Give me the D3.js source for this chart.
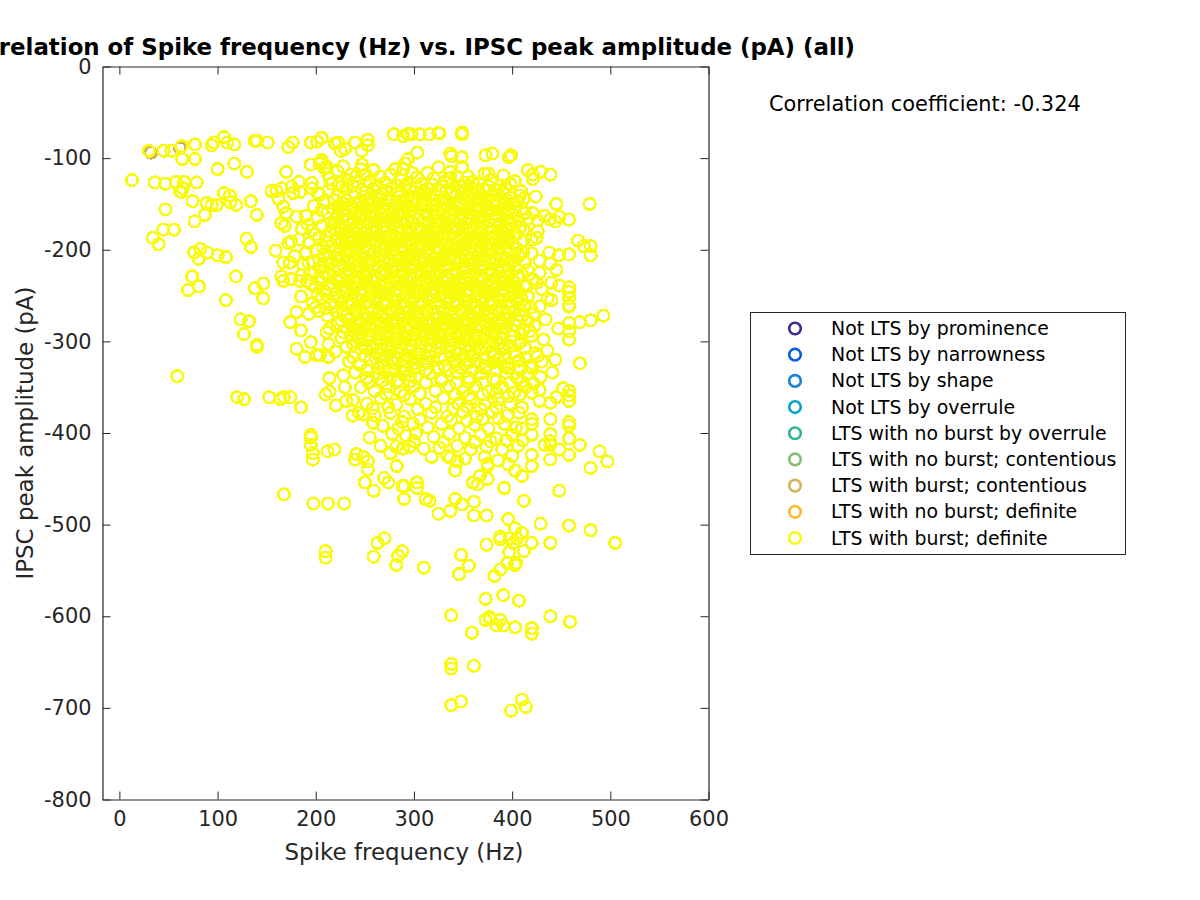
<!DOCTYPE html>
<html><head><meta charset="utf-8">
<script src="https://cdn.jsdelivr.net/npm/d3@7/dist/d3.min.js"></script>
<style>html,body{margin:0;padding:0;background:#fff}svg{display:block}text{font-family:"DejaVu Sans",sans-serif}</style>
</head><body><svg id="c" width="1200" height="900"></svg>
<script>
const titleText="Correlation of Spike frequency (Hz) vs. IPSC peak amplitude (pA) (all)";
const xLabel="Spike frequency (Hz)";
const yLabel="IPSC peak amplitude (pA)";
const corrText="Correlation coefficient: -0.324";
const xTicks=[0,100,200,300,400,500,600];
const yTicks=[0,-100,-200,-300,-400,-500,-600,-700,-800];
const legendLabels=["Not LTS by prominence","Not LTS by narrowness","Not LTS by shape","Not LTS by overrule","LTS with no burst by overrule","LTS with no burst; contentious","LTS with burst; contentious","LTS with no burst; definite","LTS with burst; definite"];
const legendColors=["#3e2a94","#0b5ce0","#1a82de","#06a5c8","#2db59b","#85c074","#d2b55a","#fbbc2b","#f9fb0e"];
const contentiousPoints=[[32,-94],[61.7,-89]];
const outerPoints=[
[30,-92],[45,-92],[53,-92],[63.4,-87],[77,-85],[64,-101],[77,-101],[94,-86],[96,-83],[106.5,-77],[110,-83],[117,-85],[138,-81],[140,-81],[151,-83],[172,-88],[176.5,-83],[195,-83],[201.5,-82],[206,-78],[219.5,-84],[223,-83],[225.5,-92],[229.7,-90],[240,-83],[253,-80],[253,-86],[246.7,-92],[279.6,-74],[289,-76],[294,-74],[297.6,-74],[306,-74],[316,-74],[325,-72.5],[326,-73],[349,-72],[349,-74],[303.4,-94],[294,-101],[291,-106],[289,-112],[337,-95],[338.4,-98],[348.6,-99],[349,-110],[373,-97],[380,-95],[396.6,-99],[399,-97],[325,-110],[337,-115],[376,-117],[391,-119],[403,-125],[416,-113],[421,-118],[421,-123],[429,-115],[439,-118],[360,-126],[352,-127],[424,-142],[408,-141],[412,-144],[445,-150],[479,-150],[388,-156],[403,-158],[413,-160],[421,-160],[433,-163],[439,-167],[448,-164],[444,-169],[458,-167],[398,-168],[408,-176],[412,-178],[426,-180],[425,-187],[420,-189],[467,-190],[473,-196],[480,-196],[480,-206],[438,-203],[448,-206],[458,-205],[439,-215],[445,-222],[420,-204],[428,-225],[421,-232],[440,-236],[448,-239],[458,-241],[458,-246],[458,-253],[458,-261],[415,-240],[436,-253],[440,-255],[430,-243],[416,-251],
[493,-272],[480,-277],[469,-279],[458,-262],[458,-280],[458,-289],[458,-298],[447,-286],[469,-324],[452,-351],[458,-354],[458,-359],[458,-365],[445,-361],[439,-367],[420,-356],[410,-372],[439,-385],[458,-388],[458,-392],[439,-401],[458,-406],[439,-409],[439,-413],[433,-413],[448,-418],[469,-413],[489,-420],[458,-424],[439,-429],[497,-431],[480,-438],[420,-385],[420,-390],[420,-402],[410,-395],[420,-424],[420,-436],[410,-447],[403,-441],[396,-434],[375,-434],[375,-436],[375,-450],[367,-447],[365,-456],[360,-454],[342,-441],[344,-431],[337,-427],[303,-454],[303,-460],[290,-458],[290,-472],[312,-472],[316,-474],[342,-472],[349,-478],[361,-475],[337,-485],[325,-488],[361,-490],[374,-490],[392,-460],[412,-474],[448,-463],[396,-494],[429,-499],[458,-501],[480,-506],[403,-504],[410,-509],[388,-513],[388,-516],[398,-515],[405,-515],[420,-520],[439,-520],[505,-520],[374,-522],
[197.5,-477],[212.4,-477],[229,-477],[397,-530],[412,-529],[401,-520],[395,-542],[404,-542],[403,-544],[388,-549],[382,-556],[270,-515],[263,-520],[288,-529],[284,-534],[259,-535],[282,-544],[310,-547],[210,-529],[210,-536],[348,-533],[356,-545],[346,-554],[373,-581],[391,-577],[407,-583],[338,-599],[439,-600],[459,-606],[373,-604],[377,-601],[378,-603],[388,-604],[384,-610],[391,-610],[403,-612],[420,-613],[420,-619],[359,-618],[338,-652],[338,-657],[361,-654],[338,-697],[348,-693],[410,-691],[414,-699],[399,-703],
[59,-338],[120,-361],[127,-363],[152.7,-361],[164,-363],[167.5,-361],[174,-361],[185,-372],[123.5,-276],[132,-278],[127,-292],[140,-304],[140,-306],[174,-279],[185,-288],[180.5,-268],[180.5,-308],[195,-301],[189,-317],[201,-315],[204,-315],[213,-317],[213,-303],[211,-290],[214,-286],[214,-340],[210,-358],[214,-355],[220.5,-370],[229.7,-350],[231,-365],[237.6,-381],[248,-380],[258.6,-389],[255,-405],[278,-401],[195,-405],[195,-402],[195,-413],[197,-422],[197,-429],[212,-420],[219,-418],[240,-429],[241.5,-423],[248.5,-426],[253,-431],[253,-440],[250,-454],[259,-463],[269.5,-449],[274,-454],[282.5,-436],[276,-422],[288.5,-458],[282,-415],[289,-417],[167.5,-467],
[12.8,-124],[36,-126.5],[46.8,-128],[57.6,-126],[66,-126],[78.7,-126.5],[61.7,-136],[65,-133],[63.4,-137],[100,-112],[117,-106],[130,-115],[170,-115],[47,-156],[74.6,-147],[89,-149],[94,-151],[99,-151],[106.5,-138],[112.6,-141],[113,-148],[119,-151],[134,-147],[140,-162],[87,-162],[76.6,-169],[44.7,-178],[55.6,-178],[34,-187],[40,-194],[76,-203],[82.4,-199],[89.5,-203],[100,-206],[108.5,-208],[81,-210],[129.6,-188],[134,-197],[159,-201],[74,-229],[118.7,-229],[81,-240],[70,-244],[138,-242],[146.5,-237],[146.5,-253],[108.5,-255],[185,-251],[155,-136],[160,-136],[165,-133],[162,-144],[175.5,-131],[183,-126],[177,-138],[184,-137],[196,-133],[202,-138],[167,-153],[170,-160],[180.5,-164],[165,-171],[168.5,-174],[192,-173],[175,-191],[172,-193],[178.6,-207],[167,-214],[173.7,-214],[192.6,-214],[165,-229],[167,-234],[175,-232],[184,-234],[191,-234],[195,-107],[204,-106],[206,-102],[211,-109],[228,-109],[247,-107],[205,-104],[209,-111],[196,-127]
];
const corePoints=[
[214,-122],[224,-128],[236,-118],[246,-112],[255,-126],[266,-120],[276,-118],[287,-124],[298,-116],[308,-128],[320,-122],[332,-125],[344,-120],[366,-128],[378,-124],[388,-130],[398,-128],
[204,-140],[213,-135],[222,-141],[231,-133],[240,-138],[249,-142],[258,-134],[268,-139],[277,-133],[286,-142],[296,-135],[305,-140],[314,-133],[323,-141],[333,-136],[342,-142],[352,-135],[361,-140],[371,-134],[380,-141],[390,-137],[399,-143],[409,-136],
[198,-152],[208,-148],[218,-155],[227,-149],[236,-153],[245,-147],[254,-155],[263,-150],[272,-146],[281,-154],[290,-149],[299,-156],[309,-150],[318,-146],[327,-155],[336,-149],[345,-153],[354,-147],[363,-156],[372,-150],[381,-146],[390,-154],[400,-150],[410,-155],[394,-145],
[190,-163],[202,-165],[212,-160],[221,-167],[230,-162],[239,-168],[248,-160],[257,-165],[266,-161],[275,-168],[284,-162],[293,-167],[302,-160],[311,-166],[320,-162],[329,-168],[338,-161],[347,-166],[356,-160],[365,-167],[374,-162],[383,-168],[392,-161],[401,-166],[416,-166],[426,-168],
[186,-177],[196,-179],[206,-174],[215,-180],[224,-175],[233,-181],[242,-174],[251,-179],[260,-175],[269,-181],[278,-174],[287,-180],[296,-176],[305,-181],[314,-174],[323,-179],[332,-175],[341,-181],[350,-174],[359,-180],[368,-176],[377,-181],[386,-174],[395,-179],[404,-183],
[183,-189],[193,-193],[203,-187],[212,-192],[221,-188],[230,-194],[239,-187],[248,-192],[257,-188],[266,-194],[275,-187],[284,-192],[293,-189],[302,-194],[311,-187],[320,-192],[329,-188],[338,-194],[347,-187],[356,-193],[365,-189],[374,-194],[383,-187],[392,-192],[401,-194],[411,-190],
[190,-203],[200,-200],[209,-206],[218,-201],[227,-207],[236,-200],[245,-205],[254,-201],[263,-207],[272,-200],[281,-205],[290,-202],[299,-207],[308,-200],[317,-205],[326,-201],[335,-207],[344,-200],[353,-206],[362,-202],[371,-207],[380,-200],[389,-205],[398,-202],[407,-207],[428,-212],
[187,-216],[197,-213],[206,-219],[215,-214],[224,-220],[233,-213],[242,-218],[251,-214],[260,-220],[269,-213],[278,-218],[287,-215],[296,-220],[305,-213],[314,-218],[323,-214],[332,-220],[341,-213],[350,-219],[359,-215],[368,-220],[377,-213],[386,-218],[395,-215],[404,-220],[413,-214],
[185,-228],[194,-226],[203,-232],[212,-227],[221,-233],[230,-226],[239,-231],[248,-227],[257,-233],[266,-226],[275,-231],[284,-228],[293,-233],[302,-226],[311,-231],[320,-227],[329,-233],[338,-226],[347,-232],[356,-228],[365,-233],[374,-226],[383,-231],[392,-228],[401,-233],[410,-227],
[200,-240],[209,-245],[218,-240],[227,-246],[236,-239],[245,-244],[254,-240],[263,-246],[272,-239],[281,-244],[290,-241],[299,-246],[308,-239],[317,-244],[326,-240],[335,-246],[344,-239],[353,-245],[362,-241],[371,-246],[380,-239],[389,-244],[398,-241],[407,-246],[425,-236],
[197,-258],[206,-253],[215,-259],[224,-254],[233,-260],[242,-253],[251,-258],[260,-254],[269,-260],[278,-253],[287,-258],[296,-255],[305,-260],[314,-253],[323,-258],[332,-254],[341,-260],[350,-253],[359,-259],[368,-255],[377,-260],[386,-253],[395,-258],[404,-255],[413,-260],[428,-262],
[193,-270],[203,-267],[212,-272],[221,-268],[230,-273],[239,-266],[248,-271],[257,-267],[266,-273],[275,-266],[284,-271],[293,-268],[302,-273],[311,-266],[320,-271],[329,-267],[338,-273],[347,-266],[356,-272],[365,-268],[374,-273],[383,-266],[392,-271],[401,-268],[410,-273],[422,-270],[434,-276],
[222,-281],[232,-286],[241,-280],[250,-285],[259,-281],[268,-287],[277,-280],[286,-285],[295,-282],[304,-287],[313,-280],[322,-285],[331,-281],[340,-287],[349,-280],[358,-286],[367,-282],[376,-287],[385,-280],[394,-285],[403,-282],[412,-287],[423,-283],
[226,-296],[236,-293],[246,-299],[255,-294],[265,-300],[274,-293],[283,-298],[292,-294],[301,-300],[310,-293],[319,-298],[328,-295],[337,-300],[346,-293],[355,-299],[364,-295],[373,-300],[382,-293],[391,-298],[400,-295],[409,-300],[420,-294],[432,-298],
[220,-311],[231,-306],[240,-312],[251,-307],[262,-313],[272,-306],[282,-312],[293,-307],[303,-313],[312,-306],[322,-312],[333,-307],[343,-313],[352,-306],[362,-312],[372,-307],[382,-313],[392,-306],[402,-312],[413,-307],[424,-313],[436,-310],
[234,-322],[245,-326],[256,-320],[266,-326],[277,-321],[288,-327],[298,-320],[309,-325],[320,-321],[331,-327],[342,-320],[352,-325],[363,-321],[374,-327],[385,-320],[396,-325],[407,-321],[418,-327],[430,-322],[444,-320],
[228,-337],[240,-334],[252,-340],[264,-335],[276,-340],[289,-334],[302,-340],[316,-335],[329,-341],[344,-334],[356,-340],[368,-335],[381,-341],[394,-334],[405,-340],[416,-335],[429,-339],[441,-334],
[246,-350],[260,-354],[272,-349],[286,-355],[300,-349],[322,-354],[336,-349],[350,-355],[363,-349],[376,-355],[390,-350],[402,-356],[414,-350],[428,-353],
[238,-364],[252,-368],[266,-362],[282,-369],[296,-363],[312,-368],[330,-362],[345,-368],[358,-363],[372,-369],[386,-363],[398,-368],[428,-365],
[244,-378],[260,-381],[276,-378],[290,-382],[318,-378],[334,-382],[350,-377],[364,-382],[380,-377],[395,-381],[407,-378],
[268,-392],[284,-395],[299,-390],[314,-394],[328,-390],[346,-395],[362,-391],[376,-395],[392,-390],[404,-394],
[292,-403],[302,-400],[320,-404],[336,-401],[352,-405],[368,-402],[384,-406],[400,-402],[411,-408],
[266,-414],[296,-415],[310,-417],[326,-416],[344,-414],[358,-418],[374,-415],[390,-418],[406,-414],[318,-426],[334,-425],[352,-428],[372,-426],[386,-430],[400,-425]
];
const denseFill=[
[227,-131],[243,-127],[251,-137],[262,-129],[271,-136],[283,-130],[293,-143],[302,-132],[317,-139],[329,-131],[339,-128],[349,-139],[358,-133],[368,-143],[376,-131],[386,-148],[405,-147],
[219,-146],[233,-157],[241,-149],[252,-145],[259,-158],[268,-153],[277,-159],[286,-147],[295,-153],[304,-145],[313,-158],[322,-151],[331,-143],[341,-157],[350,-144],[358,-152],[367,-146],[377,-157],[385,-152],[396,-158],
[206,-157],[216,-170],[226,-158],[235,-172],[244,-165],[253,-171],[262,-169],[270,-157],[280,-171],[289,-158],[298,-170],[307,-155],[316,-172],[325,-160],[334,-171],[343,-158],[352,-171],[361,-163],[370,-170],[379,-157],[388,-171],[397,-172],[407,-169],
[200,-183],[210,-185],[219,-171],[228,-184],[237,-178],[246,-186],[255,-171],[264,-185],[273,-179],[282,-186],[291,-172],[300,-185],[309,-178],[318,-186],[327,-172],[336,-185],[345,-178],[354,-186],[363,-172],[372,-185],[381,-179],[390,-186],[399,-172],
[207,-197],[216,-195],[225,-199],[234,-190],[243,-198],[252,-196],[261,-191],[270,-198],[279,-195],[288,-199],[297,-190],[306,-197],[315,-194],[324,-199],[333,-190],[342,-198],[351,-195],[360,-191],[369,-199],[378,-194],[387,-198],[396,-190],[405,-199],
[204,-211],[213,-209],[222,-212],[231,-205],[240,-211],[249,-208],[258,-212],[267,-205],[276,-211],[285,-209],[294,-212],[303,-205],[312,-211],[321,-209],[330,-212],[339,-205],[348,-211],[357,-209],[366,-212],[375,-205],[384,-211],[393,-209],[402,-212],[411,-203],
[199,-224],[208,-225],[217,-222],[226,-229],[235,-222],[244,-225],[253,-222],[262,-229],[271,-222],[280,-225],[289,-222],[298,-229],[307,-222],[316,-225],[325,-222],[334,-229],[343,-222],[352,-225],[361,-222],[370,-229],[379,-222],[388,-225],[397,-222],[406,-229],[416,-222],
[195,-238],[205,-236],[214,-238],[223,-235],[232,-241],[241,-236],[250,-234],[259,-241],[268,-235],[277,-238],[286,-235],[295,-241],[304,-235],[313,-238],[322,-235],[331,-241],[340,-235],[349,-238],[358,-235],[367,-241],[376,-235],[385,-238],[394,-235],[403,-241],[413,-238],
[202,-250],[211,-249],[220,-248],[229,-252],[238,-247],[247,-250],[256,-248],[265,-252],[274,-247],[283,-250],[292,-248],[301,-252],[310,-247],[319,-250],[328,-248],[337,-252],[346,-247],[355,-250],[364,-248],[373,-252],[382,-247],[391,-250],[400,-248],[409,-252],
[200,-263],[210,-264],[219,-262],[228,-266],[237,-260],[246,-264],[255,-262],[264,-266],[273,-260],[282,-264],[291,-262],[300,-266],[309,-260],[318,-264],[327,-262],[336,-266],[345,-260],[354,-264],[363,-262],[372,-266],[381,-260],[390,-264],[399,-262],[408,-266],[419,-263],
[226,-277],[235,-275],[244,-278],[253,-274],[262,-277],[271,-275],[280,-278],[289,-274],[298,-277],[307,-275],[316,-278],[325,-274],[334,-277],[343,-275],[352,-278],[361,-274],[370,-277],[379,-275],[388,-278],[397,-274],[406,-277],[416,-278],
[228,-290],[238,-289],[247,-291],[256,-288],[265,-292],[274,-289],[283,-291],[292,-288],[301,-292],[310,-289],[319,-291],[328,-288],[337,-292],[346,-289],[355,-291],[364,-288],[373,-292],[382,-289],[391,-291],[400,-288],[409,-292],[418,-289],
[238,-303],[248,-303],[258,-305],[268,-302],[278,-305],[288,-302],[298,-305],[307,-302],[317,-305],[327,-302],[337,-305],[347,-302],[357,-305],[367,-302],[377,-305],[387,-302],[397,-305],[407,-302],
[238,-317],[250,-316],[261,-318],[272,-316],[283,-318],[294,-316],[305,-318],[316,-316],[327,-318],[338,-316],[349,-318],[360,-316],[371,-318],[382,-316],[393,-318],[404,-316],[414,-318],[426,-316],
[252,-331],[264,-329],[276,-331],[300,-329],[312,-331],[324,-329],[336,-331],[348,-329],[360,-331],[372,-329],[384,-331],[396,-329],[408,-331],[420,-329],
[254,-345],[268,-343],[282,-345],[296,-344],[312,-345],[328,-343],[343,-345],[356,-344],[370,-345],[384,-343],[398,-345],[410,-344],[422,-346],
[272,-358],[290,-359],[306,-357],[342,-358],[356,-359],[370,-358],[384,-356],[396,-360],[408,-358],
[258,-373],[274,-372],[304,-374],[322,-372],[340,-373],[354,-371],[368,-374],[384,-372],
[288,-388],[306,-385],[338,-386],[354,-387],[370,-385],[386,-384],[300,-409],[330,-410],[362,-410],[378,-409],[394,-408]
];
const clusterFill=[
[212,-117],[222,-114],[233,-124],[241,-120],[251,-118],[259,-113],[271,-127],[281,-112],[293,-128],[303,-121],[314,-116],[326,-134],[337,-122],[355,-120],[372,-117],[384,-135],
[216,-128],[229,-142],[238,-130],[247,-134],[256,-143],[264,-141],[274,-143],[283,-138],[291,-131],[300,-147],[310,-136],[319,-129],[328,-146],[338,-137],[347,-131],[356,-141],[365,-136],[374,-142],[383,-140],[393,-133],
[224,-152],[231,-146],[239,-156],[248,-152],[256,-149],[265,-145],[274,-152],[283,-163],[292,-144],[301,-151],[311,-144],[320,-156],[329,-150],[338,-155],[347,-149],[356,-156],[365,-151],[374,-156],[383,-150],[392,-149],
[222,-163],[232,-168],[241,-160],[250,-167],[259,-162],[268,-169],[277,-165],[286,-170],[295,-163],[304,-167],[313,-162],[322,-168],[331,-165],[340,-169],[349,-163],[358,-168],[367,-164],[376,-169],[385,-163],[394,-168],
[221,-179],[230,-176],[240,-182],[249,-175],[258,-181],[267,-176],[276,-183],[285,-176],[294,-182],[303,-176],[312,-183],[321,-177],[330,-182],[339,-176],[348,-183],[357,-177],[366,-182],[375,-176],[384,-183],[393,-177],
[226,-192],[235,-185],[244,-191],[253,-186],[262,-193],[271,-187],[280,-192],[289,-187],[298,-193],[307,-188],[316,-191],[325,-186],[334,-193],[343,-187],[352,-192],[361,-186],[370,-193],[379,-188],[388,-191],[397,-186],
[223,-204],[232,-199],[241,-204],[250,-198],[259,-203],[268,-199],[277,-204],[286,-198],[295,-203],[304,-199],[313,-204],[322,-198],[331,-203],[340,-199],[349,-204],[358,-198],[367,-203],[376,-199],[385,-204],[394,-198],
[228,-217],[237,-214],[246,-219],[255,-213],[264,-218],[273,-214],[282,-219],[291,-213],[300,-218],[309,-214],[318,-219],[327,-213],[336,-218],[345,-214],[354,-219],[363,-213],[372,-218],[381,-214],[390,-219],[399,-213],
[226,-232],[235,-228],[244,-232],[253,-227],[262,-232],[271,-228],[280,-232],[289,-227],[298,-232],[307,-228],[316,-232],[325,-227],[334,-232],[343,-228],[352,-232],[361,-227],[370,-232],[379,-228],[388,-232],[397,-227],
[230,-244],[239,-241],[248,-245],[257,-240],[266,-245],[275,-241],[284,-245],[293,-240],[302,-245],[311,-241],[320,-245],[329,-240],[338,-245],[347,-241],[356,-245],[365,-240],[374,-245],[383,-241],[392,-245],[401,-240],
[234,-257],[243,-254],[252,-258],[261,-253],[270,-258],[279,-254],[288,-258],[297,-253],[306,-258],[315,-254],[324,-258],[333,-253],[342,-258],[351,-254],[360,-258],[369,-253],[378,-258],[387,-254],[396,-258],[405,-253],
[232,-270],[241,-267],[250,-271],[259,-266],[268,-271],[277,-267],[286,-271],[295,-266],[304,-271],[313,-267],[322,-271],[331,-266],[340,-271],[349,-267],[358,-271],[367,-266],[376,-271],[385,-267],[394,-271],[403,-266],
[237,-283],[247,-280],[256,-284],[265,-279],[274,-284],[283,-280],[292,-284],[301,-279],[310,-284],[319,-280],[328,-284],[337,-279],[346,-284],[355,-280],[364,-284],[373,-279],[382,-284],[391,-280],
[243,-296],[253,-293],[262,-297],[271,-292],[280,-297],[289,-293],[298,-297],[307,-292],[316,-297],[325,-293],[334,-297],[343,-292],[352,-297],[361,-293],[370,-297],[379,-292],[388,-297],
[257,-309],[267,-309],[277,-311],[286,-307],[296,-311],[306,-309],[316,-311],[326,-308],[336,-311],[346,-308],[356,-311],[368,-309],[378,-311],[390,-309],
[268,-322],[280,-324],[291,-322],[302,-324],[312,-322],[280,-332],[292,-331],[284,-343],[296,-337],[344,-325],[356,-323],[368,-325],[380,-323],[392,-327]
];
const xScale=d3.scaleLinear().domain([-17.2,600]).range([102.5,708.5]);
const yScale=d3.scaleLinear().domain([-800,0]).range([799.5,66.5]);
const ink="#262626";
const svg=d3.select("#c");
const burstDefinite=outerPoints.concat(corePoints,denseFill,clusterFill);
const g=svg.append("g").attr("shape-rendering","crispEdges");
function ring(sel,color){sel.attr("r",5.8).attr("fill","none").attr("stroke",color).attr("stroke-width",2.6);}
g.selectAll("circle.c").data(contentiousPoints).join("circle").attr("class","c")
 .attr("cx",d=>xScale(d[0])).attr("cy",d=>yScale(d[1])).call(ring,legendColors[6]);
g.selectAll("circle.d").data(burstDefinite).join("circle").attr("class","d")
 .attr("cx",d=>xScale(d[0])).attr("cy",d=>yScale(d[1])).call(ring,legendColors[8]);
function styleAxis(a){a.select(".domain").attr("stroke",ink).attr("stroke-width",1.2);
 a.selectAll(".tick line").attr("stroke",ink).attr("stroke-width",1);
 a.selectAll("text").attr("fill",ink).attr("font-size",20.9).attr("font-family",'"DejaVu Sans"');}
const fmt=d=>String(d);
svg.append("g").attr("transform","translate(0,799.5)").call(d3.axisBottom(xScale).tickValues(xTicks).tickFormat(fmt).tickSizeInner(-8).tickSizeOuter(0).tickPadding(12)).call(styleAxis);
svg.append("g").attr("transform","translate(0,66.5)").call(d3.axisTop(xScale).tickValues(xTicks).tickFormat("").tickSizeInner(-8).tickSizeOuter(0)).call(styleAxis);
svg.append("g").attr("transform","translate(102.5,0)").call(d3.axisLeft(yScale).tickValues(yTicks).tickFormat(fmt).tickSizeInner(-8).tickSizeOuter(0).tickPadding(11)).call(styleAxis);
svg.append("g").attr("transform","translate(708.5,0)").call(d3.axisRight(yScale).tickValues(yTicks).tickFormat("").tickSizeInner(-8).tickSizeOuter(0)).call(styleAxis);
svg.append("text").attr("x",405).attr("y",55).attr("text-anchor","middle").attr("font-size",22.9).attr("font-weight","bold").attr("fill","#000").text(titleText);
svg.append("text").attr("x",404).attr("y",860).attr("text-anchor","middle").attr("font-size",22.95).attr("fill",ink).text(xLabel);
svg.append("text").attr("transform","translate(33,433) rotate(-90)").attr("text-anchor","middle").attr("font-size",22.95).attr("fill",ink).text(yLabel);
svg.append("text").attr("x",769).attr("y",111).attr("font-size",20.9).attr("fill","#000").text(corrText);
const lg=svg.append("g");
lg.append("rect").attr("x",750.5).attr("y",312.5).attr("width",375).attr("height",242).attr("fill","#fff").attr("stroke",ink).attr("stroke-width",1);
const legY=d3.scalePoint().domain(legendLabels).range([328.5,538]);
legendLabels.forEach((t,i)=>{
 lg.append("circle").attr("cx",795).attr("cy",legY(t)).call(ring,legendColors[i]);
 lg.append("text").attr("x",831).attr("y",legY(t)+6.5).attr("font-size",18.9).attr("fill","#000").text(t);
});
</script></body></html>
